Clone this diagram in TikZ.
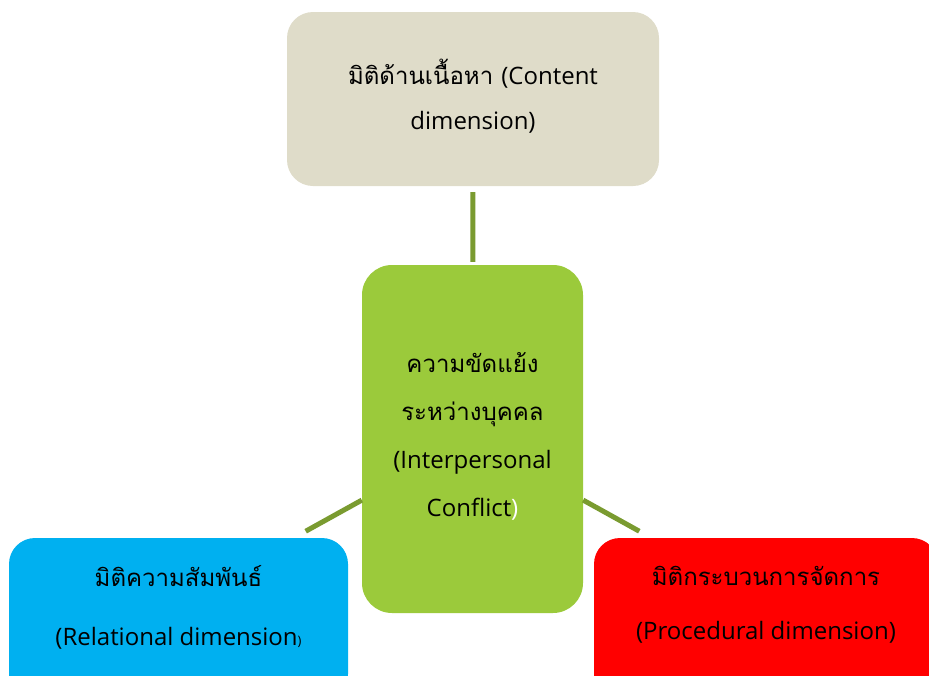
\documentclass[tikz,border=0pt]{standalone}
\usepackage{fontspec}
\newfontfamily\thaifont[Script=Thai]{Loma}
\newfontfamily\latinfont{Open Sans}
\newcommand{\lt}[1]{{\latinfont #1}}
\definecolor{topfill}{HTML}{DFDCC9}
\definecolor{midfill}{HTML}{9BCA3B}
\definecolor{leftfill}{HTML}{00B0F0}
\definecolor{rightfill}{HTML}{FF0000}
\definecolor{connc}{HTML}{7A9B30}
\begin{document}
\begin{tikzpicture}[x=1pt,y=-1pt,
  box/.style={rectangle, rounded corners=26pt, draw=none, inner sep=0pt},
  conn/.style={draw=connc, line width=5pt},
  lbl/.style={align=center, inner sep=0pt, text=black}]
\useasboundingbox (0,0) rectangle (929,675);
\clip (0,0) rectangle (929,675);
\node[box, fill=topfill, minimum width=372pt, minimum height=174pt] (top) at (473,99) {};
\node[box, fill=midfill, minimum width=221pt, minimum height=348pt, rounded corners=30pt] (mid) at (472.5,439) {};
\node[box, fill=leftfill, minimum width=339pt, minimum height=162pt] (left) at (178.5,619) {};
\node[box, fill=rightfill, minimum width=344pt, minimum height=162pt] (right) at (766,619) {};
\coordinate (lhub) at (178,602);
\coordinate (rhub) at (767,602);
\draw[conn, shorten <=6pt, shorten >=3pt] (top) -- (mid);
\draw[conn, shorten >=146pt] (mid) -- (lhub);
\draw[conn, shorten >=146pt] (mid) -- (rhub);
\node[lbl, font=\thaifont\fontsize{24}{45}\selectfont] (toptext) at (473,96) {มิติด้านเนื้อหา \lt{(Content}\\\lt{dimension)}};
\node[lbl, font=\thaifont\fontsize{24}{48}\selectfont] (midtext) at (472.5,436) {ความขัดแย้ง\\ระหว่างบุคคล\\\lt{(Interpersonal}\\\lt{Conflict{\color{white})}}};
\node[lbl, font=\thaifont\fontsize{24}{59}\selectfont] (lefttext) at (178.5,607) {มิติความสัมพันธ์\\\lt{(Relational dimension{\fontsize{13}{13}\selectfont)}}};
\node[lbl, font=\thaifont\fontsize{24}{54}\selectfont] (righttext) at (766,605) {มิติกระบวนการจัดการ\\\lt{(Procedural dimension)}};
\end{tikzpicture}
\end{document}
